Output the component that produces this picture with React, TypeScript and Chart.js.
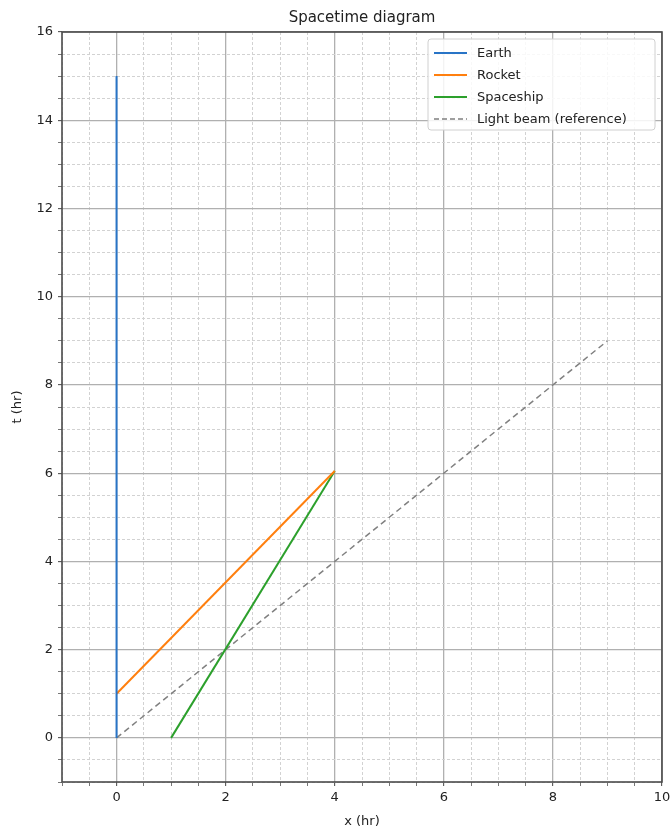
import React, { useEffect, useRef } from "react";
import { Chart, registerables } from "chart.js";

Chart.register(...registerables);

const chartTitle = "Spacetime diagram";
const xTitle = "x (hr)";
const yTitle = "t (hr)";

const seriesNames = ["Earth", "Rocket", "Spaceship", "Light beam (reference)"];
const earthX = [0, 0];
const earthT = [0, 15];
const rocketX = [0, 4];
const rocketT = [1, 6.05];
const spaceshipX = [1, 4];
const spaceshipT = [0, 6.05];
const lightX = [0, 9];
const lightT = [0, 9];

const xRange = [-1, 10];
const yRange = [-1, 16];
const minorStep = 0.5;
const majorStep = 2;

const colors = ["#2874c6", "#ff7f0e", "#2ca02c", "#808080"];
const FONT = "'DejaVu Sans', sans-serif";

const toPts = (xs: number[], ys: number[]) => xs.map((x, i) => ({ x, y: ys[i] }));

const isMajor = (v: number) => Math.abs(v / majorStep - Math.round(v / majorStep)) < 1e-9;

function buildTicks(min: number, max: number) {
  const out: { value: number }[] = [];
  for (let k = Math.round(min / minorStep); k <= Math.round(max / minorStep); k++) {
    out.push({ value: k * minorStep });
  }
  return out;
}

const framePlugin = {
  id: "frameAndLegend",
  afterDatasetsDraw(chart: any) {
    const { ctx, chartArea } = chart;
    ctx.save();
    ctx.strokeStyle = "#4a4a4a";
    ctx.lineWidth = 1.6;
    ctx.strokeRect(chartArea.left, chartArea.top, chartArea.right - chartArea.left, chartArea.bottom - chartArea.top);

    // title
    ctx.fillStyle = "#222";
    ctx.font = `15px ${FONT}`;
    ctx.textAlign = "center";
    ctx.textBaseline = "middle";
    ctx.fillText(chartTitle, (chartArea.left + chartArea.right) / 2, 18);

    // legend
    const bx = 428, by = 39, bw = 227, bh = 91;
    ctx.fillStyle = "rgba(255,255,255,0.85)";
    ctx.strokeStyle = "#d0d0d0";
    ctx.lineWidth = 1;
    ctx.beginPath();
    (ctx as any).roundRect(bx, by, bw, bh, 3);
    ctx.fill();
    ctx.stroke();
    ctx.font = `13px ${FONT}`;
    ctx.textAlign = "left";
    seriesNames.forEach((name, i) => {
      const y = 53 + i * 22;
      ctx.beginPath();
      ctx.strokeStyle = colors[i];
      ctx.lineWidth = i === 3 ? 1.5 : 2;
      ctx.setLineDash(i === 3 ? [5, 3] : []);
      ctx.moveTo(434, y);
      ctx.lineTo(467, y);
      ctx.stroke();
      ctx.setLineDash([]);
      ctx.fillStyle = "#222";
      ctx.fillText(name, 477, y + 1);
    });
    ctx.restore();
  },
};

export default function App() {
  const ref = useRef<HTMLCanvasElement | null>(null);
  useEffect(() => {
    if (!ref.current) return;
    const gridColor = (c: any) => (c.tick && isMajor(c.tick.value) ? "#b0b0b0" : "#d2d2d2");
    const gridWidth = (c: any) => (c.tick && isMajor(c.tick.value) ? 1.3 : 1);
    const gridDash = (c: any) => (c.tick && !isMajor(c.tick.value) ? [3, 2] : []);
    const tickColor = (c: any) => (c.tick && isMajor(c.tick.value) ? "#444" : "#777");
    const labelCb = (v: any) => (isMajor(Number(v)) ? String(Number(v)) : "");
    const chart = new Chart(ref.current, {
      type: "scatter",
      data: {
        datasets: [
          { label: seriesNames[0], data: toPts(earthX, earthT), borderColor: colors[0], borderWidth: 2, showLine: true, pointRadius: 0 },
          { label: seriesNames[1], data: toPts(rocketX, rocketT), borderColor: colors[1], borderWidth: 2, showLine: true, pointRadius: 0 },
          { label: seriesNames[2], data: toPts(spaceshipX, spaceshipT), borderColor: colors[2], borderWidth: 2, showLine: true, pointRadius: 0 },
          { label: seriesNames[3], data: toPts(lightX, lightT), borderColor: colors[3], borderWidth: 1.5, borderDash: [6, 4], showLine: true, pointRadius: 0 },
        ],
      },
      options: {
        responsive: false,
        animation: false,
        layout: { padding: { top: 32, right: 9, left: 0, bottom: 0 } },
        plugins: { legend: { display: false }, title: { display: false }, tooltip: { enabled: false } },
        scales: {
          x: {
            type: "linear",
            min: xRange[0],
            max: xRange[1],
            afterBuildTicks: (s: any) => { s.ticks = buildTicks(xRange[0], xRange[1]); },
            afterFit: (s: any) => { s.height = 49; s.paddingLeft = 0; s.paddingRight = 0; },
            ticks: { autoSkip: false, maxRotation: 0, padding: 4, color: "#222", font: { family: FONT, size: 13 }, callback: labelCb },
            grid: { color: gridColor, lineWidth: gridWidth, tickLength: 4, tickColor, tickWidth: 1 },
            border: { display: false, dash: gridDash },
            title: { display: true, text: xTitle, color: "#222", font: { family: FONT, size: 13 }, padding: { top: 0, bottom: 2 } },
          },
          y: {
            type: "linear",
            min: yRange[0],
            max: yRange[1],
            afterBuildTicks: (s: any) => { s.ticks = buildTicks(yRange[0], yRange[1]); },
            afterFit: (s: any) => { s.width = 62; s.paddingTop = 0; s.paddingBottom = 0; },
            ticks: { autoSkip: false, padding: 5, color: "#222", font: { family: FONT, size: 13 }, callback: labelCb },
            grid: { color: gridColor, lineWidth: gridWidth, tickLength: 4, tickColor, tickWidth: 1 },
            border: { display: false, dash: gridDash },
            title: { display: true, text: yTitle, color: "#222", font: { family: FONT, size: 13 }, padding: { top: 10, bottom: 0 } },
          },
        },
      },
      plugins: [framePlugin],
    } as any);
    return () => chart.destroy();
  }, []);
  return (
    <div style={{ position: "fixed", left: 0, top: 0, width: 671, height: 831, background: "#fff" }}>
      <canvas ref={ref} width={671} height={831} />
    </div>
  );
}
